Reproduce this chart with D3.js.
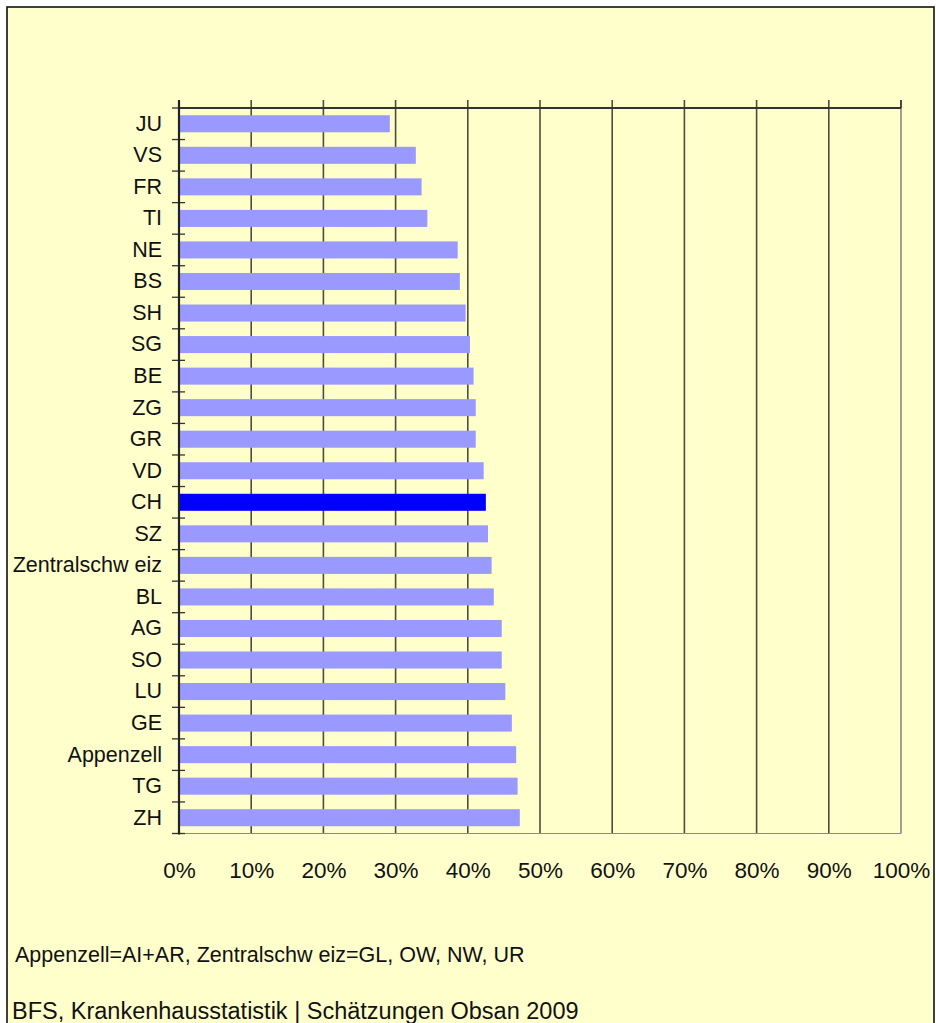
<!DOCTYPE html>
<html>
<head>
<meta charset="utf-8">
<script src="https://cdn.jsdelivr.net/npm/d3@7"></script>
<style>
  body { margin: 0; background: #fff; }
  text { font-family: "Liberation Sans", Arial, sans-serif; fill: #111; }
</style>
</head>
<body>
<svg id="chart"></svg>
<script>
const categories = ['JU', 'VS', 'FR', 'TI', 'NE', 'BS', 'SH', 'SG', 'BE', 'ZG', 'GR', 'VD', 'CH', 'SZ',
    'Zentralschw eiz', 'BL', 'AG', 'SO', 'LU', 'GE', 'Appenzell', 'TG', 'ZH'];
const shares = [0.292, 0.328, 0.336, 0.344, 0.386, 0.389, 0.397, 0.403, 0.408, 0.411, 0.411, 0.422, 0.425, 0.428,
    0.433, 0.436, 0.447, 0.447, 0.452, 0.461, 0.467, 0.469, 0.472];
const highlight = 'CH';
const xTicks = [0, 0.1, 0.2, 0.3, 0.4, 0.5, 0.6, 0.7, 0.8, 0.9, 1];
const footnote = 'Appenzell=AI+AR, Zentralschw eiz=GL, OW, NW, UR';
const source = 'BFS, Krankenhausstatistik | Schätzungen Obsan 2009';

const width = 936;
const height = 1023;
const plotLeft = 179, plotRight = 901, plotTop = 108, plotBottom = 833.5;

const svg = d3.select('#chart')
    .attr('width', width)
    .attr('height', height);

svg.append('rect')
    .attr('x', 7).attr('y', 7)
    .attr('width', 927).attr('height', 1030)
    .attr('fill', '#ffffcc')
    .attr('stroke', '#111')
    .attr('stroke-width', 1.6);

const x = d3.scaleLinear().domain([0, 1]).range([plotLeft, plotRight]);
const y = d3.scaleBand()
    .domain(categories)
    .range([plotTop, plotBottom])
    .paddingInner(0.46)
    .paddingOuter(0.23);

// vertical gridlines, poking above the top line
svg.append('g')
    .selectAll('line')
    .data(xTicks.slice(1))
    .enter()
    .append('line')
    .attr('x1', d => x(d)).attr('x2', d => x(d))
    .attr('y1', plotTop - 8).attr('y2', plotBottom)
    .attr('stroke', d => d === 1 ? '#8a8a80' : '#4d4d3d')
    .attr('stroke-width', 1.6);

// dark tick on top of the 100% line
svg.append('line')
    .attr('x1', x(1)).attr('x2', x(1))
    .attr('y1', plotTop - 8).attr('y2', plotTop)
    .attr('stroke', '#333').attr('stroke-width', 1.6);

// bottom border of plot area
svg.append('line')
    .attr('x1', plotLeft).attr('x2', plotRight)
    .attr('y1', plotBottom).attr('y2', plotBottom)
    .attr('stroke', '#8a8a8a').attr('stroke-width', 1.2);

svg.append('g')
    .selectAll('rect')
    .data(categories)
    .enter()
    .append('rect')
    .attr('x', x(0) + 1)
    .attr('y', d => y(d))
    .attr('height', y.bandwidth())
    .attr('width', (d, i) => x(shares[i]) - x(0) - 1)
    .attr('fill', d => d === highlight ? '#0000ff' : '#9999ff');

// top line
svg.append('line')
    .attr('x1', plotLeft).attr('x2', plotRight)
    .attr('y1', plotTop).attr('y2', plotTop)
    .attr('stroke', '#333').attr('stroke-width', 2);

// category axis
const yAxis = d3.axisLeft(y).tickSize(0).tickPadding(17);
const gy = svg.append('g')
    .attr('transform', `translate(${plotLeft},0)`)
    .call(yAxis);
gy.select('.domain').remove();
gy.selectAll('text')
    .attr('font-size', 21.5)
    .attr('font-family', '"Liberation Sans", Arial, sans-serif')
    .attr('fill', '#111');

const bounds = categories.map(c => y(c) - y.step() * y.paddingInner() / 2).concat([plotBottom]);
svg.append('g')
    .selectAll('line')
    .data(bounds)
    .enter()
    .append('line')
    .attr('x1', plotLeft - 7).attr('x2', plotLeft + 6)
    .attr('y1', d => d).attr('y2', d => d)
    .attr('stroke', '#333').attr('stroke-width', 1.3);

svg.append('line')
    .attr('x1', plotLeft).attr('x2', plotLeft)
    .attr('y1', plotTop - 8).attr('y2', plotBottom + 1)
    .attr('stroke', '#222').attr('stroke-width', 2.2);

// value axis labels
const xAxis = d3.axisBottom(x)
    .tickValues(xTicks)
    .tickFormat(d3.format('.0%'))
    .tickSize(0)
    .tickPadding(29);
const gx = svg.append('g')
    .attr('transform', `translate(0,${plotBottom})`)
    .call(xAxis);
gx.select('.domain').remove();
gx.selectAll('text')
    .attr('font-size', 22.5)
    .attr('font-family', '"Liberation Sans", Arial, sans-serif')
    .attr('fill', '#111');

svg.append('text')
    .attr('x', 15).attr('y', 962)
    .attr('font-size', 21.5)
    .text(footnote);

svg.append('text')
    .attr('x', 12).attr('y', 1019)
    .attr('font-size', 23.5)
    .text(source);
</script>
</body>
</html>
